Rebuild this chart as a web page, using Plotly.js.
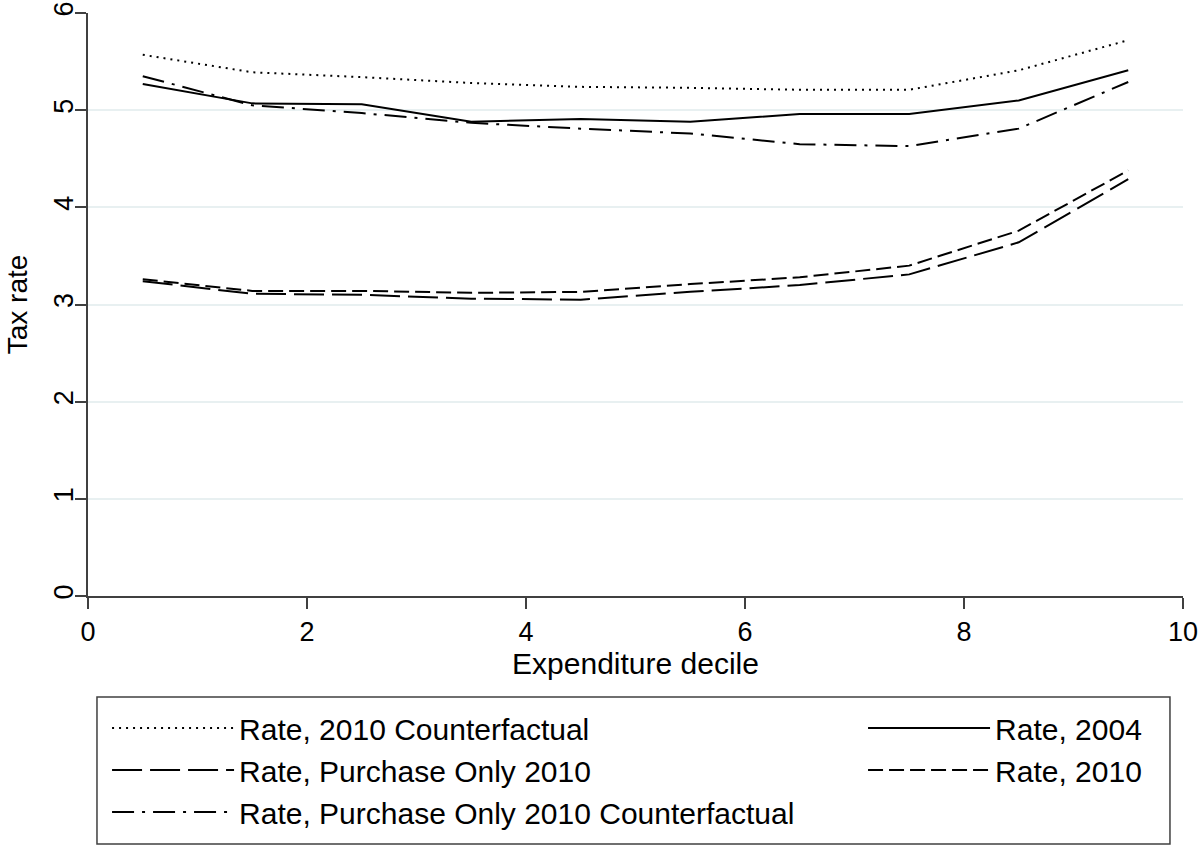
<!DOCTYPE html>
<html>
<head>
<meta charset="utf-8">
<script src="https://cdn.plot.ly/plotly-3.0.1.min.js"></script>
<style>
  html, body { margin: 0; padding: 0; background: #fff; }
  #chart { width: 1200px; height: 846px; }
</style>
</head>
<body>
<div id="chart"></div>
<script>
// Expenditure decile midpoints
const deciles = [0.5, 1.5, 2.5, 3.5, 4.5, 5.5, 6.5, 7.5, 8.5, 9.5];

// Series values (tax rate, %)
const rate2010Counterfactual = [5.57, 5.39, 5.34, 5.28, 5.24, 5.23, 5.21, 5.21, 5.41, 5.72];
const rate2004 = [5.27, 5.07, 5.06, 4.88, 4.91, 4.88, 4.96, 4.96, 5.10, 5.41];
const ratePurchaseOnly2010 = [3.24, 3.11, 3.10, 3.06, 3.05, 3.13, 3.20, 3.31, 3.64, 4.29];
const rate2010 = [3.26, 3.14, 3.14, 3.12, 3.13, 3.21, 3.28, 3.40, 3.76, 4.38];
const ratePurchaseOnly2010Counterfactual = [5.35, 5.05, 4.97, 4.87, 4.81, 4.76, 4.65, 4.63, 4.81, 5.29];

// Labels
const seriesNames = [
  "Rate, 2010 Counterfactual",
  "Rate, Purchase Only 2010",
  "Rate, Purchase Only 2010 Counterfactual",
  "Rate, 2004",
  "Rate, 2010"
];
const xTickVals = [0, 2, 4, 6, 8, 10];
const yTickVals = [0, 1, 2, 3, 4, 5, 6];
const xTitle = "Expenditure decile";
const yTitle = "Tax rate";

const FONT = "Arial, 'Liberation Sans', sans-serif";

function tr(y, name, dash, legendId) {
  return {
    x: deciles, y: y, name: name, type: "scatter", mode: "lines",
    line: { color: "#000000", width: 2, dash: dash },
    legend: legendId,
    hoverinfo: "x+y+name"
  };
}

// Column 1 of the legend (legend), column 2 (legend2)
const data = [
  tr(rate2010Counterfactual, seriesNames[0], "2px,5px", "legend"),
  tr(ratePurchaseOnly2010, seriesNames[1], "30px,8px", "legend"),
  tr(ratePurchaseOnly2010Counterfactual, seriesNames[2], "22px,8px,3px,8px", "legend"),
  tr(rate2004, seriesNames[3], "solid", "legend2"),
  tr(rate2010, seriesNames[4], "15px,6px", "legend2")
];

const legendCommon = {
  orientation: "v",
  xanchor: "left",
  yanchor: "top",
  y: -0.1818,
  borderwidth: 0,
  bgcolor: "rgba(0,0,0,0)",
  font: { size: 30, family: FONT, color: "#000" },
  itemwidth: 122,
  traceorder: "normal"
};

const layout = {
  width: 1200, height: 846,
  paper_bgcolor: "#ffffff", plot_bgcolor: "#ffffff",
  font: { family: FONT, size: 27, color: "#000000" },
  margin: { l: 88, r: 17, t: 13, b: 250, pad: 0, autoexpand: false },
  showlegend: true,
  xaxis: {
    range: [0, 10], tickvals: xTickVals, ticktext: xTickVals.map(String),
    showgrid: false, zeroline: false,
    showline: true, linecolor: "#404040", linewidth: 1.5,
    ticks: "outside", ticklen: 11, tickwidth: 1.5, tickcolor: "#404040",
    tickfont: { size: 27, family: FONT, color: "#000" },
    title: { text: xTitle, font: { size: 30, family: FONT, color: "#000" }, standoff: 0 }
  },
  yaxis: {
    range: [0, 6], tickvals: yTickVals, ticktext: yTickVals.map(String),
    showgrid: true, gridcolor: "#e8f0f1", gridwidth: 2,
    zeroline: false,
    showline: true, linecolor: "#404040", linewidth: 1.5,
    ticks: "outside", ticklen: 11, tickwidth: 1.5, tickcolor: "#404040",
    tickangle: -90,
    ticklabelstandoff: -9,
    tickfont: { size: 27, family: FONT, color: "#000" },
    title: { text: yTitle, font: { size: 28, family: FONT, color: "#000" }, standoff: 14 }
  },
  legend: Object.assign({}, legendCommon, { x: 0.0174 }),
  legend2: Object.assign({}, legendCommon, { x: 0.7078 }),
  shapes: [{
    type: "rect", xref: "paper", yref: "paper",
    x0: 0.0082, x1: 0.9881, y0: -0.1732, y1: -0.4254,
    line: { color: "#404040", width: 1.5 },
    fillcolor: "rgba(0,0,0,0)",
    layer: "below"
  }]
};

Plotly.newPlot("chart", data, layout, { displayModeBar: false, responsive: false });
</script>
</body>
</html>
